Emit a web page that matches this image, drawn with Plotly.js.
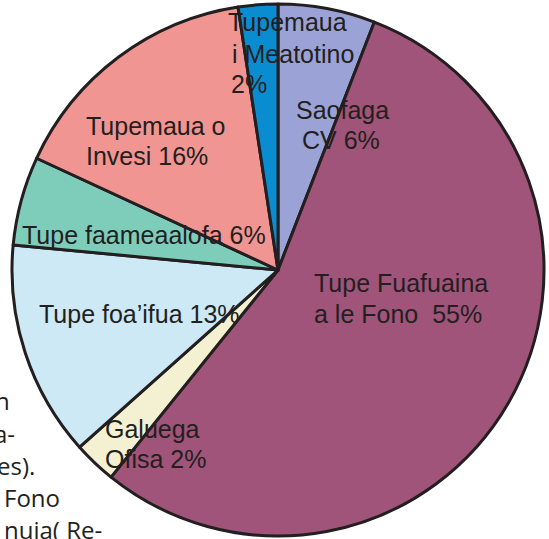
<!DOCTYPE html>
<html>
<head>
<meta charset="utf-8">
<script src="https://cdn.plot.ly/plotly-3.0.1.min.js"></script>
<style>
  html, body { margin: 0; padding: 0; background: #ffffff; overflow: hidden; }
  #chart { width: 549px; height: 539px; }
</style>
</head>
<body>
<div id="chart"></div>
<script>
// Slices, clockwise from 12 o'clock (angles)
const categories = ["Saofaga CV", "Tupe Fuafuaina a le Fono", "Galuega Ofisa", "Tupe foa’ifua",
                    "Tupe faameaalofa", "Tupemaua o Invesi", "Tupemaua i Meatotino"];
const values = [5.9, 54.9, 2.6, 13.1, 5.4, 15.7, 2.4];
const printedPercent = ["6%", "55%", "2%", "13%", "6%", "16%", "2%"];
const colors = ["#9ba3d6", "#a05479", "#f3f1d1", "#cce9f5", "#7ecdbb", "#f19592", "#0a8dd0"];

// Label lines as printed on the chart: [text, left px, baseline px, anchor]
const labelLines = [
  ["Tupemaua", 226, 30, "left"],
  ["i Meatotino", 230, 62, "left"],
  ["2%", 229, 92, "left"],
  ["Saofaga", 342, 118, "center"],
  ["CV 6%", 341, 148, "center"],
  ["Tupemaua o", 84, 134, "left"],
  ["Invesi 16%", 84, 164, "left"],
  ["Tupe faameaalofa 6%", 20, 243, "left"],
  ["Tupe foa’ifua 13%", 37, 322, "left"],
  ["Tupe Fuafuaina", 312, 291, "left"],
  ["a le Fono  55%", 312, 322, "left"],
  ["Galuega", 103, 437, "left"],
  ["Ofisa 2%", 103, 467, "left"]
];

// Fragments of surrounding page text visible at the left edge: [text, right px, baseline px]
const pageFragments = [
  ["n", 12, 408],
  ["a-", 17, 441],
  ["es).", 37, 473],
  ["Fono", 62, 505],
  ["nuia( Re-", 104, 537]
];

const M = {l: 12, r: 5, t: 4, b: 3};
const W = 549, H = 539;
const PW = W - M.l - M.r, PH = H - M.t - M.b;
const px2x = px => (px - M.l) / PW;
const py2y = py => 1 - (py - M.t) / PH;

const annotations = [];
labelLines.forEach(([t, x, base, anch]) => {
  annotations.push({
    text: t, xref: "paper", yref: "paper",
    x: px2x(x), y: py2y(base - 8.5),
    xanchor: anch, yanchor: "middle", showarrow: false,
    font: {family: "Liberation Sans, Arial, sans-serif", size: 25, color: "#231f20"}
  });
});
pageFragments.forEach(([t, xr, base]) => {
  annotations.push({
    text: t, xref: "paper", yref: "paper",
    x: px2x(xr), y: py2y(base - 8),
    xanchor: "right", yanchor: "middle", showarrow: false,
    font: {family: "Open Sans, sans-serif", size: 24, color: "#231f20"}
  });
});

const trace = {
  type: "pie",
  labels: categories,
  values: values,
  text: printedPercent,
  sort: false,
  direction: "clockwise",
  rotation: 0,
  textinfo: "none",
  hoverinfo: "label+text",
  marker: {colors: colors, line: {color: "#231f20", width: 3}},
  showlegend: false
};

Plotly.newPlot("chart", [trace], {
  width: W, height: H,
  margin: M,
  paper_bgcolor: "#ffffff",
  plot_bgcolor: "#ffffff",
  showlegend: false,
  annotations: annotations
}, {displayModeBar: false, staticPlot: true});
</script>
</body>
</html>
